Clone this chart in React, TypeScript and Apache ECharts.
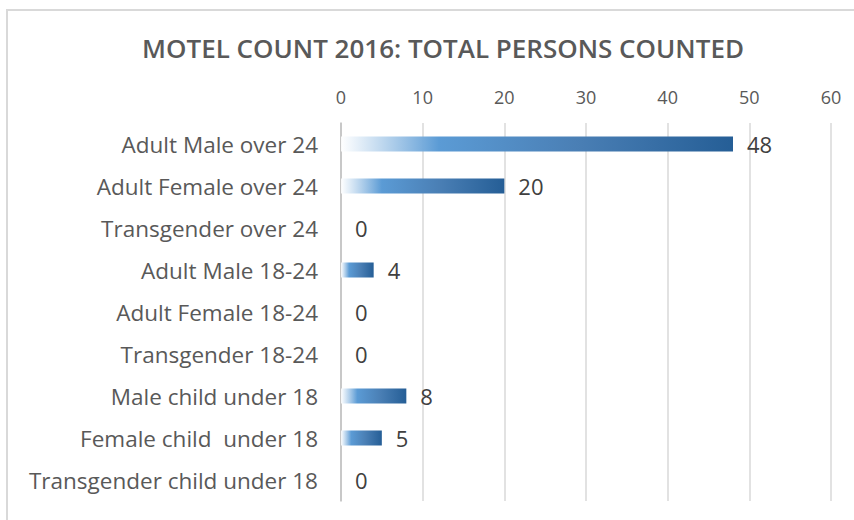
import React, { useEffect, useRef } from "react";
import * as echarts from "echarts";

const titleText = "MOTEL COUNT 2016: TOTAL PERSONS COUNTED";
const categories = [
  "Adult Male over 24",
  "Adult Female over 24",
  "Transgender over 24",
  "Adult Male 18-24",
  "Adult Female 18-24",
  "Transgender 18-24",
  "Male child under 18",
  "Female child  under 18",
  "Transgender child under 18",
];
const values = [48, 20, 0, 4, 0, 0, 8, 5, 0];
const axisMin = 0;
const axisMax = 60;
const axisStep = 10;

export default function App() {
  const ref = useRef<HTMLDivElement>(null);
  useEffect(() => {
    if (!ref.current) return;
    const chart = echarts.init(ref.current, undefined, { renderer: "svg" });
    const grad = new echarts.graphic.LinearGradient(0, 0, 1, 0, [
      { offset: 0, color: "rgba(255,255,255,0.9)" },
      { offset: 0.25, color: "#5b9bd5" },
      { offset: 0.6, color: "#4a7fb5" },
      { offset: 1, color: "#255e96" },
    ]);
    chart.setOption({
      animation: false,
      backgroundColor: "#ffffff",
      title: {
        text: titleText,
        left: 438,
        textAlign: "center",
        top: 30,
        textStyle: {
          fontFamily: "Open Sans",
          fontSize: 26,
          fontWeight: 600,
          color: "#595959",
        },
      },
      graphic: [
        {
          type: "rect",
          shape: { x: 7, y: 10, width: 860, height: 530 },
          style: { fill: "none", stroke: "#d9d9d9", lineWidth: 2 },
          silent: true,
        },
      ],
      grid: { left: 341, right: 23, top: 123, bottom: 19, containLabel: false },
      xAxis: {
        type: "value",
        position: "top",
        min: axisMin,
        max: axisMax,
        interval: axisStep,
        axisLine: { show: false },
        axisTick: { show: false },
        axisLabel: {
          margin: 17,
          color: "#595959",
          fontFamily: "Open Sans",
          fontSize: 18,
        },
        splitLine: { show: true, lineStyle: { color: "#d9d9d9", width: 1.5 } },
      },
      yAxis: {
        type: "category",
        inverse: true,
        data: categories,
        axisLine: { show: true, lineStyle: { color: "#bfbfbf", width: 1.5 } },
        axisTick: { show: false },
        axisLabel: {
          margin: 23,
          color: "#595959",
          fontFamily: "Open Sans",
          fontSize: 22.5,
        },
      },
      series: [
        {
          type: "bar",
          data: values,
          barWidth: 15,
          itemStyle: { color: grad },
          label: {
            show: true,
            position: "right",
            distance: 14,
            color: "#404040",
            fontFamily: "Open Sans",
            fontSize: 22,
          },
        },
      ],
    });
    return () => chart.dispose();
  }, []);
  return (
    <div
      ref={ref}
      style={{ width: 854, height: 520, position: "fixed", left: 0, top: 0 }}
    />
  );
}
